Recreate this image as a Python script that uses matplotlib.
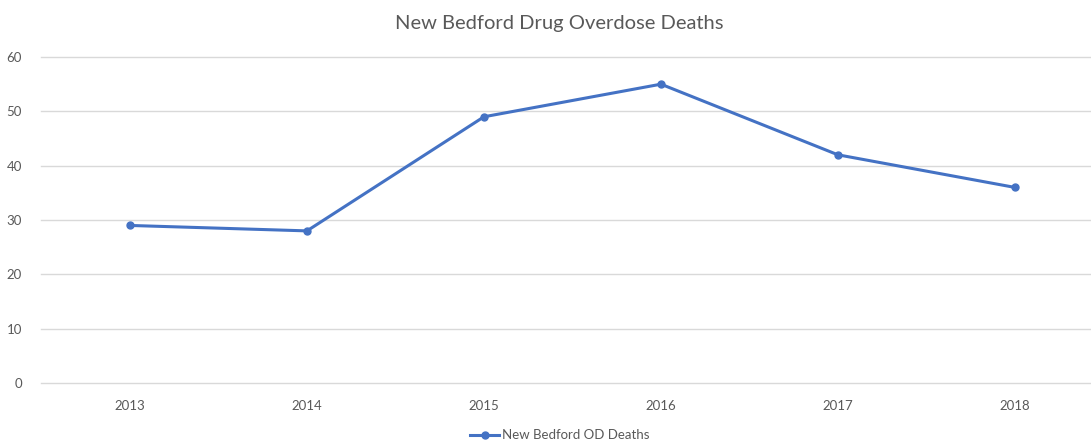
import matplotlib.pyplot as plt

years = ['2013', '2014', '2015', '2016', '2017', '2018']
od_deaths = [29, 28, 49, 55, 42, 36]

plt.rcParams['font.family'] = ['Lato', 'DejaVu Sans']

fig = plt.figure(figsize=(10.91, 4.43), dpi=100)
ax = fig.add_axes([0.038, 0.1354, 0.9734, 0.7359])

x = range(len(years))
ax.plot(x, od_deaths, color='#4472C4', linewidth=2.2, marker='o', markersize=5,
        label='New Bedford OD Deaths')

ax.set_xlim(-0.5, len(years) - 0.5)
ax.set_ylim(0, 60)
ax.set_yticks(range(0, 61, 10))
ax.set_xticks(list(x))
ax.set_xticklabels(years)
ax.grid(axis='y', color='#D9D9D9', linewidth=1)
for gl in ax.get_ygridlines():
    gl.set_clip_on(False)
ax.set_axisbelow(True)
for s in ax.spines.values():
    s.set_visible(False)
ax.tick_params(length=0, labelsize=9.5, labelcolor='#595959')
ax.tick_params(axis='x', pad=12)
ax.tick_params(axis='y', pad=14)

fig.text(0.513, 0.947, 'New Bedford Drug Overdose Deaths', ha='center', va='center',
         fontsize=14.5, color='#595959')

fig.legend(loc='center', bbox_to_anchor=(0.513, 0.017), frameon=False, fontsize=9.5,
           labelcolor='#595959', handlelength=2.2, handletextpad=0.2)

fig.savefig('out.png', dpi=100)
